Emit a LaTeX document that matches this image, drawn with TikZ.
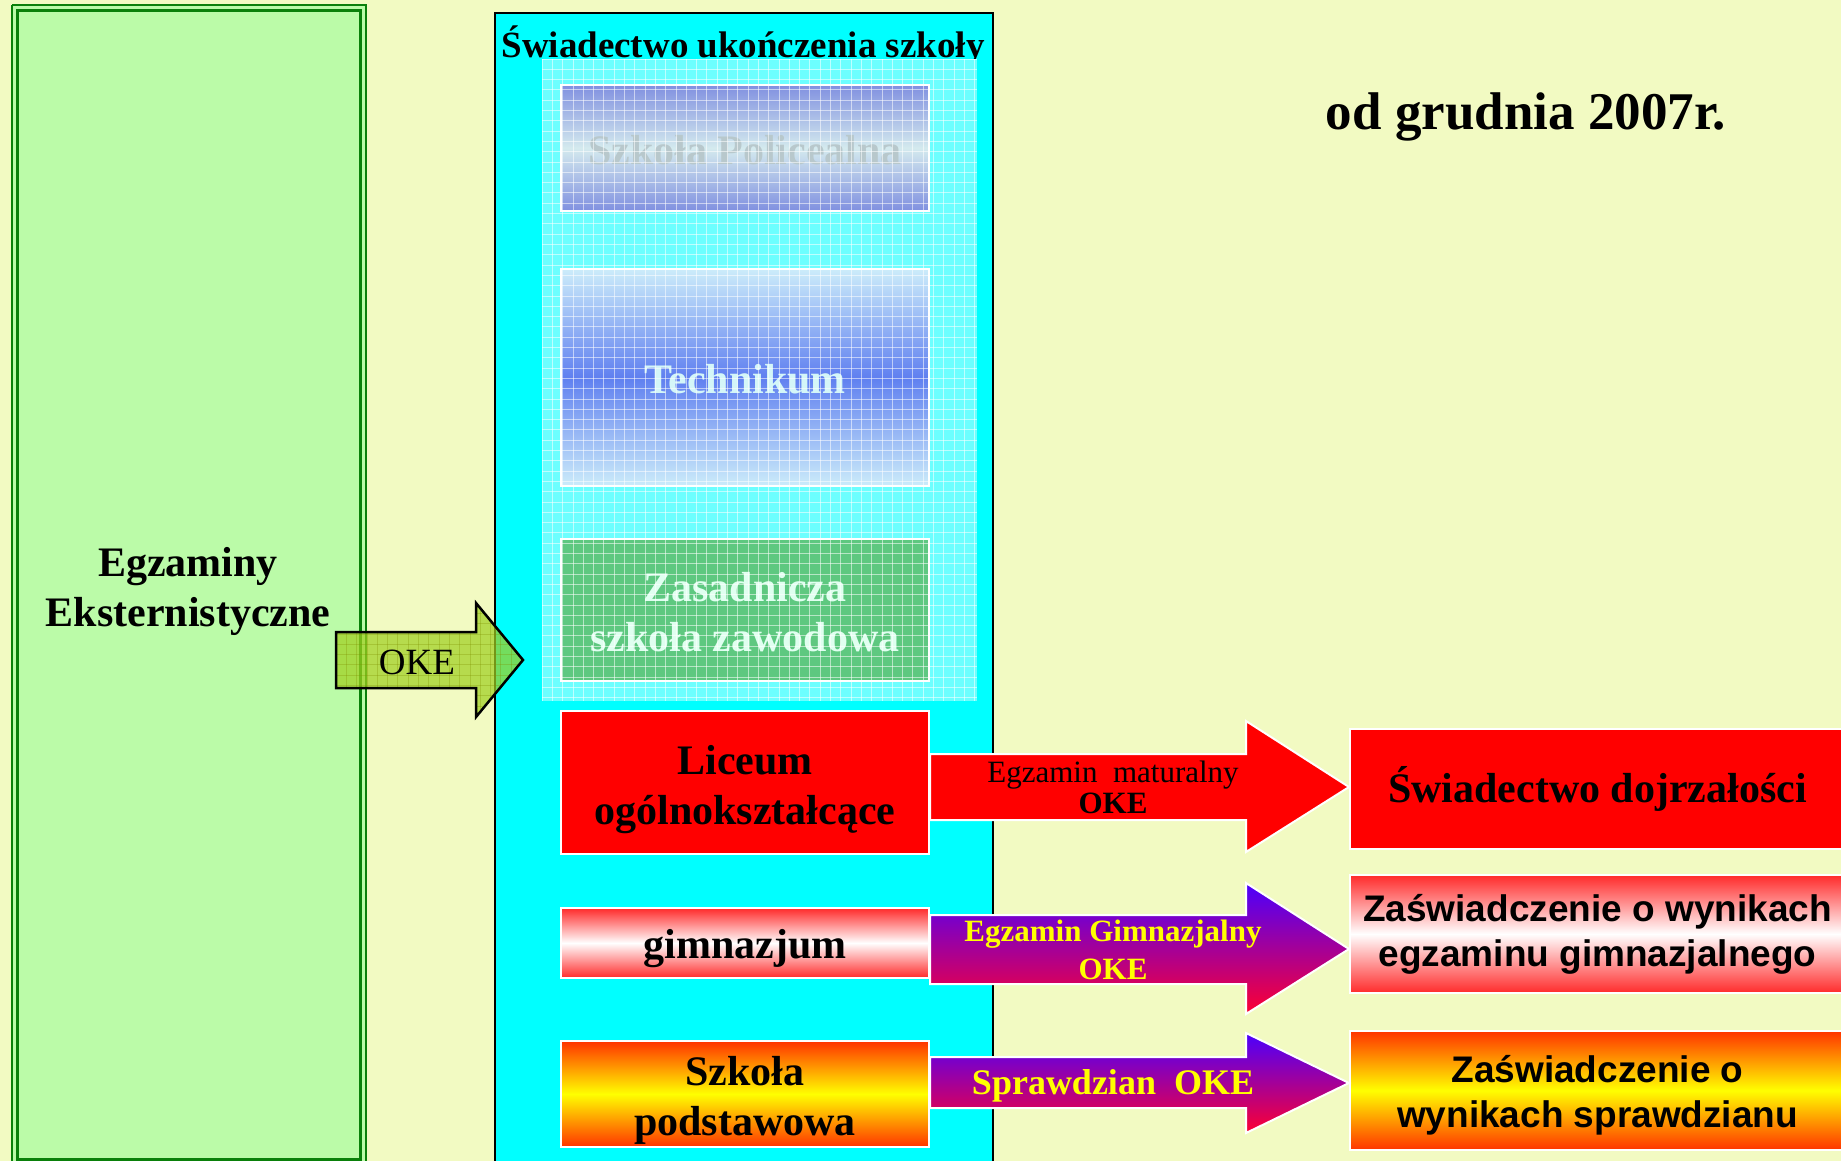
\documentclass[tikz,border=0pt]{standalone}
\usepackage{fontspec}
\setmainfont{Liberation Serif}
\newfontfamily\arialf{Liberation Sans}
\definecolor{bgc}{HTML}{F2FAC2}
\definecolor{lgreen}{HTML}{BBFBA8}
\definecolor{dgreen}{HTML}{0A800A}
\definecolor{cyanb}{HTML}{00FFFF}
\definecolor{panelc}{HTML}{6CFFFF}
\definecolor{polc}{HTML}{8090E0}
\definecolor{polm}{HTML}{D4EAEE}
\definecolor{polt}{HTML}{B8C8CC}
\definecolor{tecl}{HTML}{CCECFA}
\definecolor{tecm}{HTML}{6080F0}
\definecolor{tect}{HTML}{D4F6F8}
\definecolor{zasc}{HTML}{5EC880}
\definecolor{zast}{HTML}{E0FFF0}
\definecolor{gred}{HTML}{FF2A2A}
\definecolor{orr}{HTML}{FF3300}
\definecolor{yel}{HTML}{FFFF00}
\definecolor{arrtop}{HTML}{4A00FF}
\definecolor{arrbot}{HTML}{FF0030}
\definecolor{okec}{HTML}{A0D020}
\definecolor{okeg}{HTML}{809000}
\begin{document}
\begin{tikzpicture}[x=1pt,y=-1pt,
  bigtxt/.style={font=\bfseries\fontsize{42}{50}\selectfont, align=center},
  schoolbox/.style={draw=white, line width=2pt, inner sep=0pt, minimum width=368pt},
  resbox/.style={draw=white, line width=2pt, inner sep=0pt, minimum width=495pt},
  arialtxt/.style={font=\arialf\bfseries\fontsize{37}{45}\selectfont, align=center},
  arrtxt/.style={align=center, inner sep=0pt},
  blockarrow/.style={draw=white, line width=2pt},
  gridline/.style={white, opacity=.55, line width=0.8pt}]
\useasboundingbox (0,0) rectangle (1841,1161);
\fill[bgc] (0,0) rectangle (1841,1161);

% left green column
\fill[lgreen] (12,5) rectangle (366,1175);
\draw[dgreen, line width=2.5pt] (12,5) -- (366,5) -- (366,1175) (12,1175) -- (12,5);
\draw[dgreen, line width=2.5pt] (17.5,10.5) rectangle (360.5,1159.5);
\node[bigtxt] (ext) at (188,591.5) {Egzaminy\\Eksternistyczne};

% cyan column
\draw[fill=cyanb, draw=black, line width=2.5pt] (495,13) rectangle (993,1180);
\node[font=\bfseries\fontsize{37}{42}\selectfont] (title) at (743,46) {Świadectwo ukończenia szkoły};

% grid panel
\fill[panelc] (542,59) rectangle (977,701);

\node[schoolbox, minimum height=126pt, top color=polc, bottom color=polc, middle color=polm] (pol) at (745,148) {};
\node[bigtxt, text=polt] (polt) at (745,150) {Szkoła Policealna};
\node[schoolbox, minimum height=217pt, top color=tecl, bottom color=tecl, middle color=tecm] (tec) at (745,377.5) {};
\node[bigtxt, text=tect] (tect) at (745,379) {Technikum};
\node[schoolbox, minimum height=142pt, fill=zasc] (zas) at (745,610) {};
\node[bigtxt, text=zast] (zast) at (745,612.5) {Zasadnicza\\szkoła zawodowa};

\begin{scope}
\clip (542,59) rectangle (977,701);
\foreach \x in {542,552.3,...,980} \draw[gridline] (\x,59) -- (\x,701);
\foreach \y in {59,69.3,...,705} \draw[gridline] (542,\y) -- (977,\y);
\end{scope}
\draw[white, opacity=.6, line width=1.5pt] (561,85) rectangle (929,211) (561,269) rectangle (929,486) (561,539) rectangle (929,681);

% OKE arrow
\fill[okec, fill opacity=.72] (336,632) -- (476,632) -- (476,603) -- (523,660) -- (476,717) -- (476,688) -- (336,688) -- cycle;
\begin{scope}
\clip (336,632) -- (476,632) -- (476,603) -- (523,660) -- (476,717) -- (476,688) -- (336,688) -- cycle;
\foreach \x in {336,346.3,...,530} \draw[okeg, opacity=.3, line width=0.8pt] (\x,600) -- (\x,720);
\foreach \y in {603,613.3,...,720} \draw[okeg, opacity=.3, line width=0.8pt] (336,\y) -- (525,\y);
\end{scope}
\draw[black, line width=2.5pt, line join=miter] (336,632) -- (476,632) -- (476,603) -- (523,660) -- (476,717) -- (476,688) -- (336,688) -- cycle;
\node[font=\fontsize{37}{42}\selectfont] (oke) at (417,662) {OKE};

% lower school boxes
\node[schoolbox, minimum height=143pt, fill=red] (lic) at (745,782.5) {};
\node[bigtxt] (lict) at (745,790) {Liceum\\ogólnokształcące};
\node[schoolbox, minimum height=70pt, top color=gred, bottom color=gred, middle color=white] (gim) at (745,943) {};
\node[bigtxt] (gimt) at (745,949) {gimnazjum};
\node[schoolbox, minimum height=106pt, top color=orr, bottom color=orr, middle color=yel] (sp) at (745,1094) {};
\node[bigtxt] (spt) at (745,1100) {Szkoła\\podstawowa};

% result boxes
\node[resbox, minimum height=120pt, fill=red, font=\bfseries\fontsize{42}{50}\selectfont] (swd) at (1597.5,789) {Świadectwo dojrzałości};
\node[resbox, minimum height=118pt, top color=gred, bottom color=gred, middle color=white, arialtxt] (zgim) at (1597.5,934) {Zaświadczenie o wynikach\\egzaminu gimnazjalnego};
\node[resbox, minimum height=119pt, top color=orr, bottom color=orr, middle color=yel] (zsp) at (1597.5,1090.5) {};
\node[arialtxt] (zspt) at (1597.5,1095) {Zaświadczenie o\\wynikach sprawdzianu};

% block arrows
\path[blockarrow, fill=red] (lic.east |- 0,754) -- (1246,754) -- (1246,721) -- (swd.west |- 0,787) -- (1246,852) -- (1246,820) -- (lic.east |- 0,820) -- cycle;
\node[arrtxt] (mat) at (1113,787) {{\fontsize{31}{37}\selectfont Egzamin\ \ maturalny}\\[3pt]{\bfseries\fontsize{31}{37}\selectfont OKE}};

\path[blockarrow, top color=arrtop, bottom color=arrbot] (gim.east |- 0,915) -- (1246,915) -- (1246,883) -- (zgim.west |- 0,949) -- (1246,1014) -- (1246,984) -- (gim.east |- 0,984) -- cycle;
\node[arrtxt, text=yel, font=\bfseries\fontsize{31}{38}\selectfont] (egim) at (1113,950) {Egzamin Gimnazjalny\\OKE};

\path[blockarrow, top color=arrtop, bottom color=arrbot] (sp.east |- 0,1057) -- (1246,1057) -- (1246,1033) -- (zsp.west |- 0,1083) -- (1246,1133) -- (1246,1108) -- (sp.east |- 0,1108) -- cycle;
\node[arrtxt, text=yel, font=\bfseries\fontsize{36}{42}\selectfont] (spr) at (1113,1086) {Sprawdzian\ \ OKE};

% date
\node[font=\bfseries\fontsize{53}{60}\selectfont] (date) at (1526,117) {od grudnia 2007r.};
\end{tikzpicture}
\end{document}
